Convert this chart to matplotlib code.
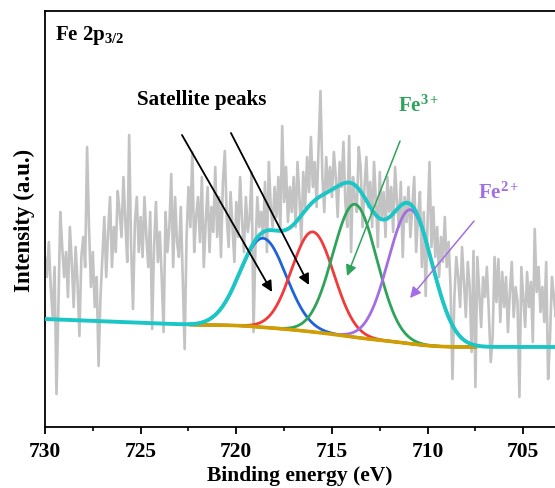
import numpy as np
import matplotlib
matplotlib.use('Agg')
import matplotlib.pyplot as plt
from matplotlib.ticker import MultipleLocator

plt.rcParams['font.family'] = ['Liberation Serif', 'DejaVu Serif']
plt.rcParams['font.weight'] = 'bold'
plt.rcParams['mathtext.fontset'] = 'custom'
plt.rcParams['mathtext.rm'] = 'Liberation Serif:bold'
plt.rcParams['mathtext.it'] = 'Liberation Serif:bold'
plt.rcParams['mathtext.bf'] = 'Liberation Serif:bold'

# ---------------- data ----------------
raw_start = 730.0   # eV
raw_step = 0.1      # eV
raw_counts = [
    170, 150, 185, 140, 110, 160, 33, 120, 215, 180,
    150, 175, 130, 200, 165, 120, 180, 145, 91, 170,
    190, 160, 280, 200, 140, 175, 120, 150, 61, 130,
    170, 210, 150, 195, 230, 160, 200, 175, 236, 215,
    190, 250, 205, 165, 292, 180, 118, 205, 230, 175,
    210, 170, 230, 190, 160, 215, 98, 180, 225, 165,
    195, 150, 95, 215, 175, 200, 253, 160, 230, 185,
    170, 220, 150, 78, 190, 240, 200, 275, 175, 210,
    230, 185, 250, 160, 205, 240, 175, 220, 195, 260,
    190, 230, 170, 245, 276, 210, 180, 235, 200, 165,
    225, 190, 250, 205, 175, 230, 195, 210, 255, 95,
    180, 230, 200, 215, 190, 245, 175, 265, 220, 200,
    240, 210, 250, 195, 301, 225, 260, 205, 240, 215,
    250, 200, 265, 230, 185, 255, 220, 270, 235, 290,
    240, 265, 220, 280, 336, 250, 215, 270, 235, 260,
    230, 275, 250, 210, 265, 240, 285, 225, 200, 291,
    175, 250, 230, 215, 280, 260, 200, 240, 270, 220,
    245, 200, 265, 225, 180, 255, 210, 235, 190, 250,
    215, 240, 195, 260, 225, 200, 245, 170, 230, 205,
    240, 190, 220, 250, 175, 210, 235, 160, 215, 131,
    205, 265, 180, 220, 170, 200, 150, 190, 165, 210,
    160, 185, 140, 48, 130, 170, 150, 120, 180, 145,
    110, 165, 140, 75, 176, 40, 170, 135, 100, 150,
    130, 160, 115, 65, 90, 170, 125, 168, 105, 155,
    120, 150, 95, 135, 165, 110, 140, 125, 30, 160,
    130, 100, 155, 120, 145, 85, 198, 135, 160, 115,
    140, 105, 165, 48, 90, 150, 130, 110, 145,
]

peak_labels = ['Satellite 1', 'Satellite 2', 'Fe3+', 'Fe2+']
peak_centers = [718.6, 716.0, 713.8, 710.9]
peak_heights = [89, 100, 133, 134]
peak_sigmas = [1.2, 1.1, 1.15, 1.15]
peak_colors = ['#1F63DB', '#F23A3A', '#2EA35A', '#A46EE3']

bg_low = 80.0       # background level on the low-BE side
bg_step = 22.0      # Shirley step
bg_slope = 0.75     # linear rise above 722 eV
fit_range = (707.5, 722.4)

x_ticks = [730, 725, 720, 715, 710, 705]

# ---------------- model ----------------
energy_raw = raw_start - raw_step * np.arange(len(raw_counts))
E = np.linspace(703.2, 730.0, 2681)
comps = [h * np.exp(-(E - c) ** 2 / (2 * s ** 2))
         for c, h, s in zip(peak_centers, peak_heights, peak_sigmas)]
total = np.sum(comps, axis=0)
shirley = np.cumsum(total) / np.sum(total)
bg = bg_low + bg_step * shirley + bg_slope * np.clip(E - 722.0, 0, None)
envelope = bg + total
mask = (E >= fit_range[0]) & (E <= fit_range[1])

# ---------------- figure ----------------
W, H = 555, 489
fig = plt.figure(figsize=(W / 100, H / 100), dpi=100)
ax = fig.add_axes([45 / W, (H - 428) / H, 510 / W, 416 / H])

ax.plot(energy_raw, raw_counts, color='#C3C3C3', lw=1.9, zorder=1)
for comp, col in zip(comps, peak_colors):
    ax.plot(E[mask], (bg + comp)[mask], color=col, lw=2.0, zorder=3)
ax.plot(E[mask], bg[mask], color='#D09E00', lw=2.6, zorder=4)
ax.plot(E, envelope, color='#1CC6C6', lw=2.8, zorder=5)

px_per_ev = 19.13
ax.set_xlim(730, 730 - 510 / px_per_ev)
ax.set_ylim(0, 416)
ax.set_xticks(x_ticks)
ax.xaxis.set_minor_locator(MultipleLocator(2.5))
ax.set_yticks([])
ax.spines['right'].set_visible(False)
for sp in ['left', 'top', 'bottom']:
    ax.spines[sp].set_linewidth(1.3)
ax.tick_params(axis='x', which='major', direction='out', length=5, width=1.3,
               labelsize=15.5, pad=5)
ax.tick_params(axis='x', which='minor', direction='out', length=3, width=1.2)
for lab in ax.get_xticklabels():
    lab.set_fontweight('bold')

ax.set_xlabel('Binding energy (eV)', fontsize=15.5, fontweight='bold', labelpad=3)
ax.set_ylabel('Intensity (a.u.)', fontsize=16.5, fontweight='bold', labelpad=7)

ax.text(0.02, 0.933, r'Fe 2p$_{3/2}$', transform=ax.transAxes, fontsize=15,
        fontweight='bold', ha='left', va='baseline')
ax.text(725.19, 323, 'Satellite peaks', fontsize=15.2, fontweight='bold',
        ha='left', va='baseline')
ax.text(711.55, 316, r'Fe$^{3+}$', fontsize=15, fontweight='bold',
        color='#2EA35A', ha='left', va='baseline')
ax.text(707.37, 229, r'Fe$^{2+}$', fontsize=15, fontweight='bold',
        color='#A46EE3', ha='left', va='baseline')

arrows = [
    ((722.84, 292), (718.13, 135), 'black', 1.3),
    ((720.28, 294), (716.20, 142), 'black', 1.3),
    ((711.44, 286), (714.21, 151), '#2EA35A', 1.1),
    ((707.57, 206), (710.92, 129), '#A46EE3', 1.1),
]
for start, end, col, lw in arrows:
    ax.annotate('', xy=end, xytext=start,
                arrowprops=dict(arrowstyle='-|>', color=col, lw=lw,
                                mutation_scale=16, shrinkA=0, shrinkB=0),
                zorder=6)

fig.savefig('out.png', dpi=100)
